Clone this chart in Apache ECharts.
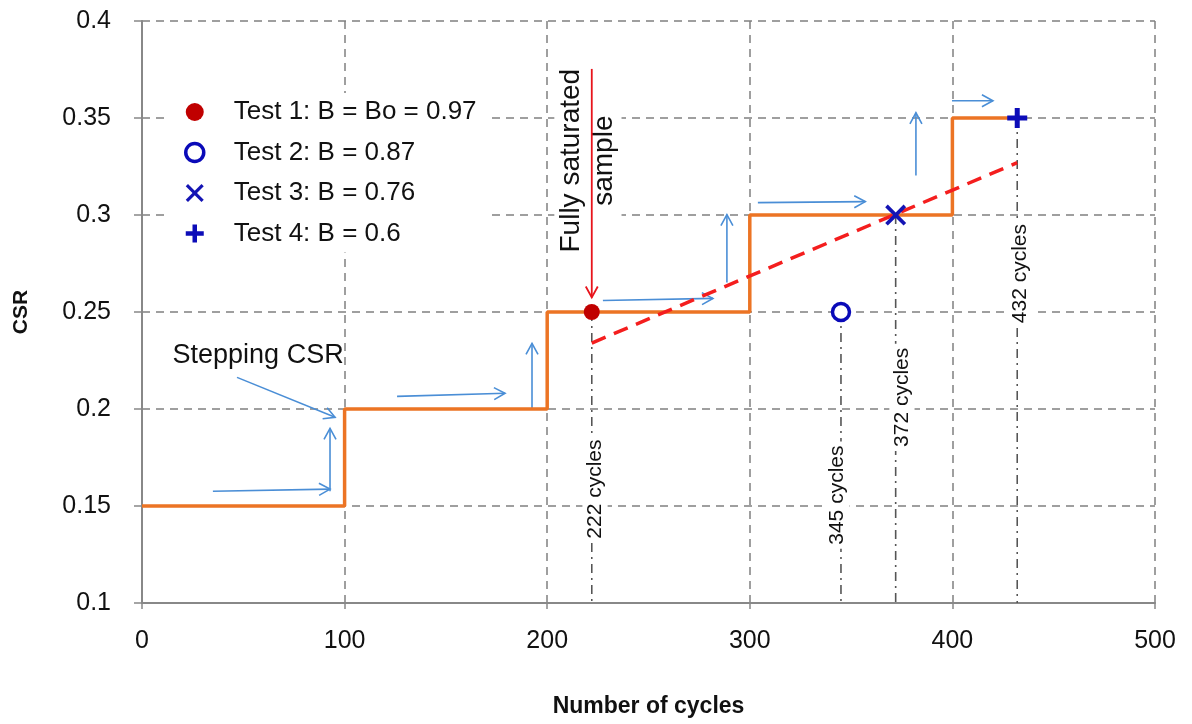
<!DOCTYPE html>
<html>
<head>
<meta charset="utf-8">
<script src="https://cdn.jsdelivr.net/npm/echarts@6/dist/echarts.min.js"></script>
<style>
html,body{margin:0;padding:0;background:#fff;}
#chart{width:1192px;height:724px;}
</style>
</head>
<body>
<div id="chart"></div>
<script>
// ---- data ----
const xTicks = [0, 100, 200, 300, 400, 500];
const yTicks = [0.1, 0.15, 0.2, 0.25, 0.3, 0.35, 0.4];
const stepCycles = [0, 100, 200, 300, 400, 432];
const stepCSR = [0.15, 0.2, 0.25, 0.3, 0.35, 0.35];
const trendCycles = [222, 432];
const trendCSR = [0.234, 0.327];
const testNames = ['Test 1: B = Bo = 0.97', 'Test 2: B = 0.87', 'Test 3: B = 0.76', 'Test 4: B = 0.6'];
const testCycles = [222, 345, 372, 432];
const testCSR = [0.25, 0.25, 0.3, 0.35];
const cycleLabels = ['222 cycles', '345 cycles', '372 cycles', '432 cycles'];
// blue arrows: [x1, y1, x2, y2] in data units
const blueArrows = [
  [35, 0.1576, 92.8, 0.1587],
  [92.8, 0.1576, 92.8, 0.190],
  [46.9, 0.2163, 95.3, 0.1957],
  [125.9, 0.2065, 179.2, 0.2081],
  [192.5, 0.2004, 192.5, 0.2338],
  [227.5, 0.2559, 281.8, 0.2570],
  [288.7, 0.2652, 288.7, 0.3002],
  [304, 0.3064, 357, 0.3069],
  [382, 0.3203, 382, 0.3527],
  [399.8, 0.3589, 420, 0.3589]
];
const redArrows = [[222, 0.3753, 222, 0.2575]];
// ---- end data ----

const FONT = 'Liberation Sans';
const chart = echarts.init(document.getElementById('chart'));

const xMin = xTicks[0], xMax = xTicks[xTicks.length - 1];
const yMin = yTicks[0], yMax = yTicks[yTicks.length - 1];

const symX = 'path://M0,3 L3,0 L12,9 L21,0 L24,3 L15,12 L24,21 L21,24 L12,15 L3,24 L0,21 L9,12 Z';
const symPlus = 'path://M7.5,0 H12.5 V7.5 H20 V12.5 H12.5 V20 H7.5 V12.5 H0 V7.5 H7.5 Z';
const testSymbols = ['circle', 'circle', symX, symPlus];
const testSizes = [16, 17, 21, 20];
const testColors = ['#C00000', '#0A0AB8', '#1414B4', '#0C0CB8'];

function arrowSeries(arr, color, width) {
  return {
    type: 'custom',
    silent: true,
    z: 4,
    data: arr,
    renderItem: function (params, api) {
      const p1 = api.coord([api.value(0), api.value(1)]);
      const p2 = api.coord([api.value(2), api.value(3)]);
      const dx = p2[0] - p1[0], dy = p2[1] - p1[1];
      const len = Math.sqrt(dx * dx + dy * dy);
      const ux = dx / len, uy = dy / len;
      const hl = 11, hw = 6;
      const bx = p2[0] - ux * hl, by = p2[1] - uy * hl;
      const a1 = [bx - uy * hw, by + ux * hw];
      const a2 = [bx + uy * hw, by - ux * hw];
      return {
        type: 'group',
        children: [
          { type: 'line', shape: { x1: p1[0], y1: p1[1], x2: p2[0], y2: p2[1] }, style: { stroke: color, lineWidth: width } },
          { type: 'polyline', shape: { points: [a1, p2, a2] }, style: { stroke: color, lineWidth: width, fill: null } }
        ]
      };
    }
  };
}

// annotation anchors (data units)
const annotations = [
  { x: 223.6, y: 0.1587, text: cycleLabels[0], rot: true, size: 21 },
  { x: 343.0, y: 0.1556, text: cycleLabels[1], rot: true, size: 21 },
  { x: 375.1, y: 0.206, text: cycleLabels[2], rot: true, size: 21 },
  { x: 433.4, y: 0.2698, text: cycleLabels[3], rot: true, size: 21 },
  { x: 57.3, y: 0.2276, text: 'Stepping CSR', rot: false, size: 27 },
  { x: 220.1, y: 0.328, text: 'Fully saturated\nsample', rot: true, size: 28 }
];

const series = [];

// dash-dot drop lines
testCycles.forEach(function (c, i) {
  series.push({
    type: 'line',
    silent: true,
    z: 2,
    symbol: 'none',
    data: [[c, testCSR[i]], [c, yMin]],
    lineStyle: { color: '#555', width: 1.6, type: [9, 5, 2, 5] }
  });
});

// annotation text
series.push({
  type: 'custom',
  silent: true,
  z: 3,
  data: annotations.map(function (a) { return [a.x, a.y]; }),
  renderItem: function (params, api) {
    const a = annotations[params.dataIndex];
    const p = api.coord([api.value(0), api.value(1)]);
    return {
      type: 'text',
      x: p[0], y: p[1],
      rotation: a.rot ? Math.PI / 2 : 0,
      style: {
        text: a.text,
        fontFamily: FONT,
        fontSize: a.size,
        fill: '#111',
        align: 'center',
        verticalAlign: 'middle',
        lineHeight: a.size * 1.2,
        backgroundColor: a.rot ? '#fff' : null,
        padding: a.rot ? [0, 4] : 0
      }
    };
  }
});

// step line
series.push({
  type: 'line',
  step: 'end',
  symbol: 'none',
  silent: true,
  z: 5,
  data: stepCycles.map(function (c, i) { return [c, stepCSR[i]]; }),
  lineStyle: { color: '#EC7424', width: 3.5 }
});

// trend dashed line
series.push({
  type: 'line',
  symbol: 'none',
  silent: true,
  z: 6,
  data: trendCycles.map(function (c, i) { return [c, trendCSR[i]]; }),
  lineStyle: { color: '#F41E1E', width: 3.5, type: [15, 9] }
});

series.push(arrowSeries(blueArrows, '#4A8ED6', 1.6));
series.push(arrowSeries(redArrows, '#E8141C', 1.8));

// test points
testNames.forEach(function (n, i) {
  series.push({
    name: n,
    type: 'scatter',
    z: 10,
    symbol: testSymbols[i],
    symbolSize: testSizes[i],
    data: [[testCycles[i], testCSR[i]]],
    itemStyle: i === 1
      ? { color: '#fff', borderColor: testColors[i], borderWidth: 3.5, opacity: 1 }
      : { color: testColors[i], opacity: 1 }
  });
});

chart.setOption({
  animation: false,
  backgroundColor: '#fff',
  grid: { left: 142, right: 37, top: 21, bottom: 121 },
  legend: {
    orient: 'vertical',
    left: 168,
    top: 93,
    padding: [6, 14, 6, 16],
    backgroundColor: '#fff',
    itemWidth: 18,
    itemHeight: 18,
    itemGap: 14.5,
    data: testNames.map(function (n, i) {
      return i === 1
        ? { name: n, itemStyle: { color: '#fff', borderColor: testColors[i], borderWidth: 3.5 } }
        : { name: n };
    }),
    textStyle: { fontFamily: FONT, fontSize: 26, color: '#111', padding: [0, 0, 0, 25] }
  },
  xAxis: {
    type: 'value',
    min: xMin, max: xMax, interval: 100,
    name: 'Number of cycles',
    nameLocation: 'middle',
    nameGap: 92,
    nameTextStyle: { fontFamily: FONT, fontSize: 23, fontWeight: 'bold', color: '#111' },
    axisLine: { lineStyle: { color: '#888', width: 2 } },
    axisTick: { show: true, length: 6, lineStyle: { color: '#888', width: 1.5 } },
    axisLabel: { fontFamily: FONT, fontSize: 25, color: '#111', margin: 26 },
    splitLine: { show: true, lineStyle: { color: '#808080', width: 1.5, type: [8, 6] } }
  },
  yAxis: {
    type: 'value',
    min: yMin, max: yMax, interval: 0.05,
    name: 'CSR',
    nameLocation: 'middle',
    nameGap: 110,
    nameRotate: 90,
    nameTextStyle: { fontFamily: FONT, fontSize: 21, fontWeight: 'bold', color: '#111' },
    axisLine: { show: true, lineStyle: { color: '#888', width: 2 } },
    axisTick: { show: true, length: 8, lineStyle: { color: '#888', width: 1.5 } },
    axisLabel: {
      fontFamily: FONT, fontSize: 25, color: '#111', margin: 31,
      formatter: function (v) { return String(Math.round(v * 100) / 100); }
    },
    splitLine: { show: true, lineStyle: { color: '#808080', width: 1.5, type: [8, 6] } }
  },
  series: series
});
</script>
</body>
</html>
